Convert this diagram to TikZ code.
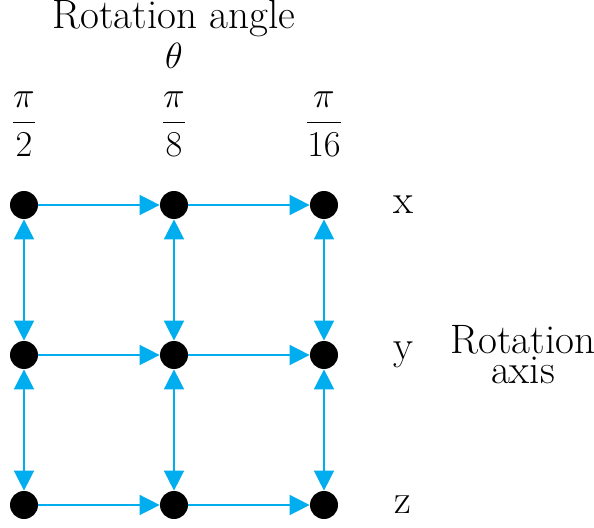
\documentclass[tikz,border=0pt]{standalone}
\usepackage{amsmath}
\usetikzlibrary{positioning,arrows.meta}
\definecolor{AxisCyan}{HTML}{00AEEF}
\begin{document}
\begin{tikzpicture}[>={Triangle[length=4mm,width=4mm]},node distance=3cm,on grid,
  font=\fontsize{23.4}{23}\selectfont]
  \tikzstyle{rotpoint}=[circle,fill=black,minimum size=5.6mm,inner sep=0pt]
  \tikzstyle{rotlink}=[color=AxisCyan,line width=0.85pt]
  \tikzstyle{anglabel}=[font=\fontsize{21}{24}\selectfont]
  \useasboundingbox (-0.48,4.1) rectangle (11.4,-6.46);
  \node[rotpoint] (x1) at (0,0) {};
  \node[rotpoint,right=of x1] (x2) {};
  \node[rotpoint,right=of x2] (x3) {};
  \node[rotpoint,below=of x1] (y1) {};
  \node[rotpoint,right=of y1] (y2) {};
  \node[rotpoint,right=of y2] (y3) {};
  \node[rotpoint,below=of y1] (z1) {};
  \node[rotpoint,right=of z1] (z2) {};
  \node[rotpoint,right=of z2] (z3) {};
  % angle labels
  \node[anglabel,above=1.62cm of x1] (a1) {$\dfrac{\pi}{2}$};
  \node[anglabel,above=1.62cm of x2] (a2) {$\dfrac{\pi}{8}$};
  \node[anglabel,above=1.62cm of x3] (a3) {$\dfrac{\pi}{16}$};
  \node[above=3.42cm of x2,align=center,inner sep=1pt] (angle)
    {Rotation angle\\{\fontsize{21}{23}\selectfont$\theta$}};
  % axis labels
  \node[right=1.58cm of x3] (lx) {x};
  \node[right=1.58cm of y3] (ly) {y};
  \node[right=1.58cm of z3] (lz) {z};
  \node[right=3.98cm of y3,align=center,font=\fontsize{23.4}{17}\selectfont] (axis) {Rotation\\axis};
  % links
  \draw[->,rotlink] (x1)--(x2);
  \draw[->,rotlink] (x2)--(x3);
  \draw[->,rotlink] (y1)--(y2);
  \draw[->,rotlink] (y2)--(y3);
  \draw[->,rotlink] (z1)--(z2);
  \draw[->,rotlink] (z2)--(z3);
  \draw[<->,rotlink] (x1)--(y1);
  \draw[<->,rotlink] (x2)--(y2);
  \draw[<->,rotlink] (x3)--(y3);
  \draw[<->,rotlink] (y1)--(z1);
  \draw[<->,rotlink] (y2)--(z2);
  \draw[<->,rotlink] (y3)--(z3);
\end{tikzpicture}
\end{document}
